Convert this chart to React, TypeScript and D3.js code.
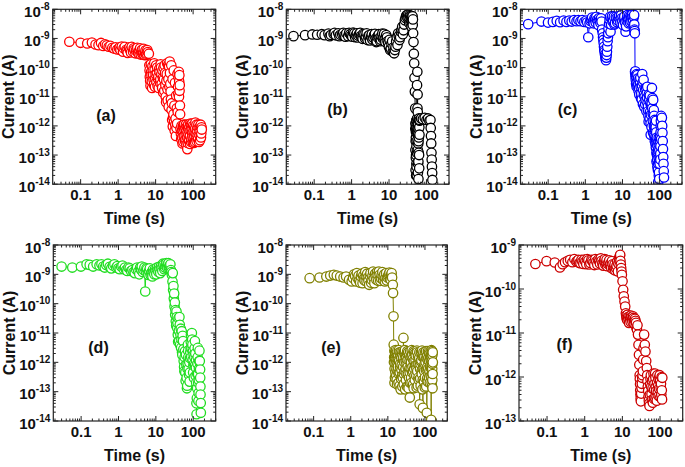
import React from 'react';
import * as d3 from 'd3';

type Pt = [number, number];

// ---- data: [time (s), current (A)] ----
const seriesA: Pt[] = [
  [0.05,7.7e-10],[0.1,7.1e-10],[0.15,6.7e-10],[0.2,7.2e-10],[0.25,6.2e-10],[0.3,5.9e-10],[0.35,7.0e-10],[0.4,5.5e-10],[0.45,6.3e-10],[0.5,5.8e-10],
  [0.56,5.2e-10],[0.62,5.6e-10],[0.7,4.8e-10],[0.78,4.5e-10],[0.86,5.0e-10],[0.95,4.2e-10],[1.05,4.6e-10],[1.15,4.0e-10],[1.25,5.3e-10],[1.35,3.5e-10],
  [1.5,5.2e-10],[1.65,4.1e-10],[1.8,3.2e-10],[1.95,4.6e-10],[2.1,4.0e-10],[2.3,5.2e-10],[2.5,3.5e-10],[2.7,4.1e-10],[2.9,3.1e-10],[3.1,4.3e-10],
  [3.4,3.3e-10],[3.7,3.9e-10],[4.0,2.8e-10],[4.3,4.1e-10],[4.6,3.2e-10],[5.0,2.7e-10],[5.4,3.9e-10],[5.8,3.0e-10],[6.2,3.4e-10],[6.6,3.0e-10],
  [6.8,1.2e-10],[7.0,4.8e-11],[7.3,2.4e-11],[7.6,7.2e-11],[7.9,3.3e-11],[8.2,1.1e-10],[8.6,5.5e-11],[9.0,2.6e-11],[9.4,8.5e-11],[9.8,4.2e-11],
  [10.3,1.2e-10],[10.8,6.5e-11],[11.3,2.3e-11],[11.8,5.0e-11],[12.4,9.0e-11],[13.0,3.0e-11],[13.6,1.3e-10],[14.2,6.0e-11],[14.9,2.0e-11],[15.6,4.5e-11],
  [16.3,1.0e-10],[17.0,1.6e-11],[17.8,6.5e-11],[18.6,1.0e-11],[19.4,3.5e-11],[20.2,1.4e-10],[21.0,7.5e-12],[21.9,4.0e-11],[22.8,1.1e-10],[23.7,1.6e-10],
  [24.6,2.8e-11],[25.6,8.0e-12],[26.6,3.5e-12],[27.6,1.6e-12],[28.7,9.5e-13],[29.8,2.5e-12],[31.0,1.4e-12],[32.2,7.0e-13],[33.4,1.1e-12],[34.7,4.5e-13],
  [36.0,8.5e-13],[37.4,1.2e-12],[38.8,3.0e-12],[40.2,1.3e-11],[41.5,7.2e-11],[42.5,3.3e-11],[43.5,1.6e-11],[44.5,5.0e-12],
  [46,8.0e-13],[48,3.5e-13],[50,6.5e-13],[52,2.5e-13],[54,1.0e-12],[56,4.5e-13],[58,7.5e-13],[61,3.0e-13],[64,1.1e-12],[67,5.0e-13],
  [70,1.6e-13],[73,8.5e-13],[76,3.5e-13],[80,6.5e-13],[84,1.2e-12],[88,2.8e-13],[92,8.0e-13],[96,4.2e-13],[100,1.0e-12],[105,2.6e-13],
  [110,6.0e-13],[115,1.3e-12],[120,3.5e-13],[126,7.5e-13],[132,4.6e-13],[138,1.1e-12],[144,2.8e-13],[150,6.5e-13],[156,9.5e-13],[162,4.0e-13],[168,9.0e-13],
];
const denseA: Pt[] = [
  [1.1,5.0e-10],[1.4,4.6e-10],[1.7,3.7e-10],[2.0,5.0e-10],[2.2,3.3e-10],[2.6,4.6e-10],[3.0,3.8e-10],[3.25,4.8e-10],[3.55,3.0e-10],[3.85,4.6e-10],
  [4.15,3.5e-10],[4.45,2.9e-10],[4.8,4.4e-10],[5.2,3.2e-10],[5.6,2.7e-10],[6.0,4.0e-10],
  [6.9,8e-11],[7.15,3.5e-11],[7.45,1.3e-10],[7.75,5.5e-11],[8.05,2.0e-11],[8.4,8e-11],[8.8,3.8e-11],[9.2,1.4e-10],[9.6,2.2e-11],[10.0,6e-11],
  [10.5,3.2e-11],[11.0,1.0e-10],[11.5,4.2e-11],[12.1,2.0e-11],[12.7,7e-11],[13.3,4.0e-11],[13.9,1.0e-10],[14.5,2.8e-11],[15.2,8e-11],[15.9,1.4e-11],
  [16.6,4.0e-11],[17.4,1.2e-10],[18.2,2.5e-11],[19.0,6.5e-12],[19.8,6e-11],[20.6,1.8e-11],[21.4,1.2e-10],[22.3,4.5e-12],[23.2,2.2e-11],[24.1,6.5e-11],
  [25.1,1.5e-11],[26.1,1.2e-10],[27.1,6e-12],[28.2,4e-11],[29.2,2.0e-12],[30.4,8e-11],[31.6,5e-12],[32.8,3e-11],[34.0,1.8e-12],[35.3,1.1e-11],
  [36.7,4e-12],[38.1,6e-11],[39.5,2.2e-11],[41,4.5e-11],[42,1.0e-11],[43,5.5e-11],[44,2.5e-11],[45,2.5e-12],
  [47,5.5e-13],[49,1.0e-12],[51,4.0e-13],[53,7.0e-13],[55,2.8e-13],[57,1.1e-12],[59,4.5e-13],[62,8.5e-13],[63,3.5e-13],[65,6.5e-13],
  [66,2.3e-13],[68,9.5e-13],[69,4.0e-13],[71,6.0e-13],[72,2.6e-13],[74,1.1e-12],[75,5.0e-13],[78,3.0e-13],[79,9.0e-13],[82,4.5e-13],
  [83,2.4e-13],[86,7.0e-13],[87,1.1e-12],[90,3.6e-13],[94,5.5e-13],[95,1.2e-12],[98,2.7e-13],[102,6.5e-13],[103,3.8e-13],[107,9.0e-13],
  [108,4.5e-13],[112,2.8e-13],[113,8.0e-13],[118,5.5e-13],[123,1.1e-12],[124,3.0e-13],[129,6.0e-13],[135,3.5e-13],[141,8.5e-13],[147,5.0e-13],
  [153,3.2e-13],[159,1.1e-12],[165,5.5e-13],[170,7.5e-13],
];

const seriesB: Pt[] = [
  [0.028,1.2e-9],[0.057,1.3e-9],[0.089,1.37e-9],[0.12,1.34e-9],[0.16,1.4e-9],[0.19,1.3e-9],[0.24,1.48e-9],[0.28,1.32e-9],[0.33,1.42e-9],[0.38,1.28e-9],
  [0.44,1.5e-9],[0.5,1.34e-9],[0.56,1.4e-9],[0.64,1.25e-9],[0.72,1.5e-9],[0.81,1.2e-9],[0.92,1.4e-9],[1.04,1.15e-9],[1.18,1.5e-9],[1.3,1.28e-9],
  [1.45,1.08e-9],[1.6,1.42e-9],[1.77,1.2e-9],[1.96,9.7e-10],[2.2,1.35e-9],[2.4,1.15e-9],[2.67,8.8e-10],[2.96,1.3e-9],[3.3,1.12e-9],[3.6,9.2e-10],
  [4.0,1.32e-9],[4.4,1.0e-9],[4.7,8.0e-10],[5.1,1.25e-9],[5.6,1.05e-9],[6.05,9.0e-10],[6.6,1.48e-9],[7.1,1.1e-9],[7.7,9.5e-10],[8.4,1.3e-9],
  [9.1,8.0e-10],[9.9,5.2e-10],[10.7,4.0e-10],[11.6,6.7e-10],[12.6,3.5e-10],[13.7,3.1e-10],[14.9,5.2e-10],[16.1,1.1e-9],[17.5,1.5e-9],[19.0,8.8e-10],
  [20.7,1.7e-9],[22.5,2.5e-9],[24.4,1.9e-9],[26.5,4.2e-9],[28.7,6.0e-9],[31.2,5.0e-9],[32.5,6.5e-9],[34.6,3.3e-9],[36.7,5.8e-9],[38.3,4.2e-9],
  [40,2.5e-9],[41.7,5.5e-9],[43,2.9e-9],[44,1.5e-9],[45,7.5e-10],[46,3.0e-10],[47,1.4e-10],[48,4.5e-11],[49,1.5e-11],[50,4e-12],
  [51,1.2e-12],[51.5,3e-13],[52,8e-14],[52.5,6e-13],[53,2e-14],[53.5,1.5e-12],[54,2e-13],[54.5,4e-14],[55,9e-13],[55.5,1.2e-13],
  [56,2.5e-11],[57,7.2e-11],[58,1.2e-11],[58.5,3e-12],[59,6e-13],[59.5,5e-14],[60,1.4e-12],[60.5,2.5e-13],[61,1.5e-14],[61.5,8e-13],
  [62,1.2e-13],[63,1.8e-12],[64,3.5e-14],[65,5e-13],[66,1.6e-12],[72,1.8e-12],[80,1.7e-12],[90,1.9e-12],[100,1.6e-12],[110,1.8e-12],
  [120,1.5e-12],[128,1.6e-12],[130,8.5e-13],[132,4.5e-13],[134,2.5e-13],[136,1.2e-13],[138,7e-14],[140,4e-14],[142,2.4e-14],[144,1.4e-14],
];
const denseB: Pt[] = [
  [0.26,1.2e-9],[0.35,1.55e-9],[0.47,1.2e-9],[0.6,1.55e-9],[0.68,1.15e-9],[0.86,1.55e-9],[0.98,1.25e-9],[1.1,1.6e-9],[1.24,1.1e-9],[1.38,1.5e-9],
  [1.52,1.25e-9],[1.7,1.55e-9],[1.86,1.1e-9],[2.05,1.45e-9],[2.3,1.0e-9],[2.52,1.5e-9],[2.8,1.2e-9],[3.1,8.5e-10],[3.45,1.4e-9],[3.8,1.05e-9],
  [4.2,1.45e-9],[4.55,7.5e-10],[4.9,1.1e-9],[5.35,1.4e-9],[5.8,8.0e-10],[6.3,1.2e-9],[6.85,1.0e-9],[7.4,1.45e-9],[8.0,7.5e-10],[8.8,1.1e-9],
  [9.5,7e-10],[10.3,9e-10],[11.1,4.5e-10],[12.1,8e-10],[13.1,5e-10],[14.3,4e-10],[15.5,8e-10],[16.8,6e-10],[18.2,1.2e-9],[19.8,1.1e-9],
  [21.6,2.0e-9],[23.4,1.4e-9],[25.4,3.0e-9],[27.6,5.0e-9],[30,6.4e-9],[33.5,5.2e-9],[35.6,6.2e-9],[37.5,3.5e-9],[39.2,5.5e-9],[40.8,4.0e-9],
  [42.4,5.8e-9],[43.5,4.5e-9],
  [50.3,8e-13],[50.7,1.5e-13],[51.2,3e-14],[51.8,1.2e-12],[52.2,4e-13],[52.8,1e-13],[53.2,8e-13],[53.8,5e-14],[54.2,1.6e-12],[54.8,3e-13],
  [55.2,2e-14],[55.8,6e-13],[56.5,1.8e-12],[57.5,4e-12],[58.2,8e-13],[58.8,1.5e-13],[59.2,2.5e-14],[59.8,5e-13],[60.2,1.1e-12],[60.8,6e-14],
  [61.2,3e-13],[61.8,1.7e-12],[62.5,4e-13],[63.5,1e-13],[64.5,9e-13],[65.5,1.5e-12],
];

const seriesC: Pt[] = [
  [0.029,3.1e-9],[0.066,3.8e-9],[0.099,3.5e-9],[0.134,3.7e-9],[0.17,4.0e-9],[0.21,3.6e-9],[0.26,4.1e-9],[0.31,3.7e-9],[0.37,4.1e-9],[0.43,3.8e-9],
  [0.5,4.3e-9],[0.58,3.9e-9],[0.65,4.3e-9],[0.74,3.9e-9],[0.83,4.3e-9],[0.94,3.7e-9],[1.06,4.1e-9],[1.2,1.1e-9],[1.3,3.3e-9],[1.44,4.5e-9],
  [1.6,3.8e-9],[1.76,4.9e-9],[1.9,3.5e-9],[2.07,4.3e-9],[2.25,2.9e-9],[2.45,4.1e-9],[2.65,4.9e-9],[2.82,2.0e-9],[2.94,1.5e-9],[3.06,8.9e-10],
  [3.18,5.2e-10],[3.3,3.5e-10],[3.45,2.4e-10],[3.6,1.8e-10],[3.75,2.7e-10],[3.9,5.2e-10],[4.06,1.1e-9],[4.2,2.2e-9],[4.5,4.3e-9],[4.77,1.7e-9],
  [5.1,4.9e-9],[5.4,3.8e-9],[5.85,5.6e-9],[6.3,3.3e-9],[6.9,4.9e-9],[7.5,4.1e-9],[8.1,5.9e-9],[8.8,3.5e-9],[9.5,4.9e-9],[10.3,2.9e-9],
  [11.2,5.6e-9],[12.1,1.7e-9],[12.9,4.1e-9],[13.7,6.4e-9],[14.6,3.3e-9],[15.5,4.9e-9],[16.5,5.9e-9],[17.5,3.8e-9],[18.6,5.3e-9],[19.8,2.9e-9],
  [20.6,6.4e-9],[21.0,2.0e-9],[21.5,1.5e-9],[21.8,7.2e-11],[22,6.4e-11],[22.8,3.8e-11],[23.6,4.9e-11],[25,2.5e-11],[26.2,4.3e-11],[27.9,2.0e-11],
  [29.6,2.9e-11],[32,1.3e-11],[34,6e-11],[36,1.7e-11],[39.5,1.0e-11],[42,7.8e-12],[45,1.3e-11],[47,6e-12],[48.5,4.6e-12],[50,2.2e-12],
  [52.5,7.8e-12],[55,3e-12],[57,1.2e-12],[59,5e-12],[62,2.0e-11],[64,9e-12],[67,7.8e-12],[68.5,2.5e-12],[70,1.0e-12],[72,4.5e-13],
  [73.5,1.6e-12],[75,7.4e-13],[77,2.5e-13],[78.5,9e-13],[80,3.4e-13],[82,1.2e-13],[84,4e-13],[86,6.9e-14],[88,2e-13],[90,3.1e-14],
  [92,1.2e-14],[94,8e-14],[96,2.5e-14],[98,1.5e-13],[100,5e-14],[102,3e-13],[104,1.1e-13],[106,6e-13],[108,1.5e-12],[110,2.2e-12],
  [115,1.9e-12],[117,1.0e-12],[119,5.8e-13],[121,3.0e-13],[123,1.6e-13],[125,8.5e-14],[127,5.0e-14],[129,2.8e-14],[131,1.7e-14],
];
const denseC: Pt[] = [
  [1.12,3.6e-9],[1.37,4.0e-9],[1.52,5.2e-9],[1.68,3.3e-9],[1.83,4.5e-9],[1.98,5.5e-9],[2.16,3.8e-9],[2.35,5.0e-9],[2.55,3.4e-9],[2.74,3.8e-9],
  [3.0,1.1e-9],[3.12,7e-10],[3.24,4e-10],[3.38,2.8e-10],[3.52,2.0e-10],[3.68,2.2e-10],[3.82,3.5e-10],[3.98,8e-10],[4.13,1.5e-9],[4.35,3.2e-9],
  [4.63,5.5e-9],[4.93,3.0e-9],[5.25,5.8e-9],[5.62,4.2e-9],[6.08,3.0e-9],[6.6,5.5e-9],[7.2,3.6e-9],[7.8,5.2e-9],[8.45,4.4e-9],[9.15,6.2e-9],
  [9.9,3.8e-9],[10.75,5.0e-9],[11.65,3.6e-9],[12.5,2.6e-9],[13.3,5.2e-9],[14.15,4.4e-9],[15.05,6.0e-9],[16.0,3.5e-9],[17.0,5.0e-9],[18.05,6.5e-9],
  [19.2,4.2e-9],[20.2,5.5e-9],[20.8,3.0e-9],[21.2,1.8e-9],
  [22.4,5e-11],[23.2,2.8e-11],[24.3,6e-11],[25.6,3.4e-11],[27,1.6e-11],[28.7,4e-11],[30.8,2.2e-11],[33,8e-12],[35,3.2e-11],[37.7,1.2e-11],
  [40.8,5.5e-12],[43.5,2.0e-11],[46,9e-12],[49.3,3.2e-12],[51.2,1.2e-11],[53.8,1.8e-12],[56,6e-12],[58,2.4e-12],[60.5,9e-13],[63,4e-12],
  [65.5,1.5e-12],[69.2,5.5e-13],[71,2.2e-12],[74.2,3e-13],[76,1.2e-12],[79.2,1.8e-13],[81,6e-13],[83,2.5e-13],[85,1.0e-13],[87,4e-14],
  [89,1.2e-13],[91,5e-14],[93,3e-13],[95,2e-14],[97,6e-14],[99,2.2e-13],[101,9e-14],[103,4.5e-13],[105,2e-13],[107,1e-12],[109,3.5e-13],
  [22.2,7.5e-11],[23.0,5.5e-11],[24.0,2.2e-11],[25.3,5.5e-11],[26.6,2.6e-11],[28.3,1.2e-11],[30.2,4.5e-11],[31.4,9e-12],[33.5,2.4e-11],[35.5,5.5e-12],
  [37,3.8e-11],[38.5,4.5e-12],[41,1.8e-11],[44,3.2e-12],[46.5,2.2e-11],[50.6,1.4e-12],[54.5,1.1e-11],[57.5,5e-13],[61,6e-12],[64.8,2.6e-12],
  [66,6e-13],[69.8,3.5e-12],[72.8,1.1e-12],[76.5,4e-13],[79.8,1.5e-12],[82.5,6e-14],[86.5,2.2e-13],[90.5,1.5e-13],[94.5,4e-13],[97.5,1.5e-14],[104.5,7e-14],
];

const seriesD: Pt[] = [
  [0.030,1.84e-9],[0.058,1.7e-9],[0.099,1.84e-9],[0.14,2.2e-9],[0.17,2.1e-9],[0.21,1.84e-9],[0.26,2.2e-9],[0.31,2.0e-9],[0.39,1.84e-9],[0.47,2.1e-9],
  [0.58,1.8e-9],[0.71,2.0e-9],[0.87,1.7e-9],[1.0,1.6e-9],[1.18,1.84e-9],[1.38,1.5e-9],[1.6,1.4e-9],[1.84,1.7e-9],[2.16,1.3e-9],[2.54,1.2e-9],
  [2.93,1.5e-9],[3.4,1.25e-9],[3.8,1.7e-9],[4.2,1.84e-9],[4.7,1.4e-9],[5.2,2.6e-10],[5.6,1.6e-9],[6.1,1.1e-9],[6.6,1.3e-9],[7.2,9.6e-10],
  [7.8,1.2e-9],[8.4,1.45e-9],[9.1,1.0e-9],[9.9,1.3e-9],[10.7,1.7e-9],[11.7,1.2e-9],[12.6,1.5e-9],[13.7,1.9e-9],[14.9,1.3e-9],[16.1,2.1e-9],
  [17.5,1.7e-9],[18.6,2.3e-9],[19.8,1.84e-9],[21,2.2e-9],[22.4,1.6e-9],[23.7,2.0e-9],[25.3,1.4e-9],[26.8,9.6e-10],[27.9,5.7e-10],[29,2.9e-10],
  [30.3,1.5e-10],[31.6,8e-11],[32.9,4.2e-11],[34.2,2.5e-11],[35.7,5.4e-11],[37.2,1.5e-11],[38.7,8.8e-12],[40.3,3.2e-11],[42,5.3e-12],[43.7,1.9e-11],
  [45.5,8.8e-12],[47.4,3.1e-12],[49.3,1.15e-11],[51,1.8e-12],[53.5,5.3e-12],[55.6,1.1e-12],[58,5e-13],[60.3,2.4e-12],[62.8,2.3e-13],[65.4,8.5e-13],
  [68,1.3e-13],[70,6e-13],[72,4e-12],[74,1.5e-12],[77,3.8e-13],[80,2.2e-13],[82,1.4e-12],[85,3e-12],[87,8.8e-12],[90,3e-12],
  [92,1e-11],[95,4e-12],[98,2.4e-12],[101,8e-13],[104,3e-13],[107,1.5e-12],[111,5.3e-12],[114,2e-12],[118,6.5e-13],[120,2e-13],
  [123,1.7e-14],[125,6e-14],[127,1.3e-13],[130,9e-13],[133,3.1e-12],[135,4e-13],[138,4.8e-14],[141,2.5e-13],[144,1.1e-12],[150,1.1e-12],
  [153,5.7e-13],[154,3.0e-13],[156,1.5e-13],[157,8e-14],[159,4.1e-14],[160,1.9e-14],
];
const denseD: Pt[] = [
  [0.35,2.2e-9],[0.43,1.7e-9],[0.52,2.3e-9],[0.64,1.6e-9],[0.78,2.2e-9],[0.93,1.9e-9],[1.08,1.5e-9],[1.28,2.0e-9],[1.49,1.7e-9],[1.72,1.3e-9],
  [2.0,1.6e-9],[2.35,1.4e-9],[2.73,1.1e-9],[3.15,1.7e-9],[3.6,1.0e-9],[4.0,1.45e-9],[4.45,1.2e-9],[4.95,1.7e-9],[5.4,1.25e-9],[5.85,1.5e-9],
  [6.35,9.5e-10],[6.9,1.6e-9],[7.5,1.1e-9],[8.1,8.5e-10],[8.75,1.2e-9],[9.5,1.5e-9],[10.3,1.0e-9],[11.2,1.4e-9],[12.1,1.8e-9],[13.1,1.1e-9],
  [14.3,1.6e-9],[15.5,2.3e-9],[16.8,1.5e-9],[18.0,2.0e-9],[19.2,2.4e-9],[20.4,1.6e-9],[21.7,2.4e-9],[23.0,1.8e-9],[24.5,2.2e-9],[26,1.2e-9],
  [28.4,1.1e-9],[29.6,4e-10],[30.9,2.2e-10],[32.2,1.1e-10],[33.5,6e-11],[35,1.8e-11],[36.4,3.5e-11],[38,2.2e-11],[39.5,5e-12],[41.2,1.2e-11],
  [42.8,3.5e-11],[44.6,4e-12],[46.4,1.4e-11],[48.3,6e-12],[50.2,2.2e-12],[52.2,8e-12],[54.5,2.8e-12],[57,7e-13],[59,1.5e-12],[61.5,4.5e-13],
  [64,1.8e-12],[66.7,3e-13],[69,1.6e-13],[71,9e-13],[73,2.5e-12],[75.5,6e-13],[78.5,1.0e-12],[81,4.5e-13],[83.5,2.2e-12],[86,5e-12],
  [88.5,1.5e-12],[93.5,6e-12],[96.5,1.2e-12],[99.5,4.5e-13],[102.5,1.8e-12],[105.5,9e-13],[109,3e-12],[112.5,8e-13],[116,3.5e-13],[119,1.2e-12],
  [122,4e-14],[128.5,4e-13],[131.5,1.5e-12],[136.5,2e-13],[139.5,9e-14],[142.5,6e-13],[147,2.5e-12],
];

const seriesE: Pt[] = [
  [0.078,7.4e-10],[0.144,7.8e-10],[0.22,8.4e-10],[0.28,9.1e-10],[0.35,9.6e-10],[0.42,9.1e-10],[0.52,8.4e-10],[0.64,7.8e-10],[0.75,8.4e-10],[0.9,6.5e-10],
  [1.06,5.7e-10],[1.23,1.0e-9],[1.39,5.7e-10],[1.53,7.4e-10],[1.7,6.0e-10],[1.88,8.4e-10],[2.08,5.0e-10],[2.26,7.0e-10],[2.45,1.2e-9],[2.66,5.7e-10],
  [2.88,7.8e-10],[3.13,4.4e-10],[3.4,1.1e-9],[3.68,6.5e-10],[4.0,1.25e-9],[4.34,5.0e-10],[4.7,8.4e-10],[5.1,1.2e-9],[5.5,6.0e-10],[6.0,9.6e-10],
  [6.5,7.4e-10],[7.1,1.2e-9],[7.7,8.4e-10],[8.3,5.7e-10],[9.0,1.1e-9],[9.8,7.8e-10],[10.6,1.0e-9],[11.5,7.0e-10],[12.3,9.6e-10],[13.0,7.8e-10],
  [13.6,4.4e-10],[13.8,2.3e-10],[14.2,3.7e-11],[14.4,4e-12],
  [14.8,1.5e-12],[15.2,6e-13],[15.7,2.2e-12],[16.2,9e-13],[16.8,3.5e-13],[17.4,1.3e-12],[18,2.5e-12],[18.7,7e-13],[19.4,2e-13],[20.1,1.1e-12],
  [20.9,4.5e-13],[21.7,1.8e-12],[22.6,2.8e-13],[23.5,8e-13],[24.5,1.5e-13],[25.5,1.2e-12],[26.3,6.8e-12],[27.2,2.2e-12],[28.3,5e-13],[29.5,1.6e-12],
  [30.7,2.5e-13],[32,9e-13],[33.3,2.4e-12],[34.7,4e-13],[36.2,1.3e-13],[37.8,6e-13],[39,6.3e-14],[40.5,1.5e-12],[42.2,3e-13],[44,2.6e-12],
  [46,7e-13],[48,1.8e-13],[50,1.1e-12],[52,3.5e-13],[54.5,2e-12],[57,8e-13],[59.5,1.4e-13],[62,5e-13],[65,1.6e-12],[68,2.5e-13],
  [72,3.7e-14],[75,9e-13],[78,2.2e-12],[82,4e-13],[85,1.2e-13],[88,2.8e-14],[92,6e-13],[96,1.5e-12],[100,3e-13],[104,1e-12],
  [108,1.5e-13],[112,1.9e-14],[116,7e-13],[120,2.4e-12],[125,4e-13],[130,1.1e-12],[135,2e-13],[140,8e-13],[145,1.8e-12],[147,1.1e-14],
  [150,2.6e-12],[152,1.5e-12],[154,8e-13],[156,4.5e-13],[158,2.5e-13],[160,1.3e-13],
];
const denseE: Pt[] = [
  [1.15,7.5e-10],[1.31,8.8e-10],[1.46,1.1e-9],[1.62,9e-10],[1.79,5.2e-10],[1.98,1.05e-9],[2.17,9e-10],[2.36,6.2e-10],[2.55,8.5e-10],[2.77,1.05e-9],
  [3.0,6.0e-10],[3.27,8.8e-10],[3.54,5.2e-10],[3.84,9.0e-10],[4.17,7.0e-10],[4.52,1.05e-9],[4.9,6.5e-10],[5.3,9.5e-10],[5.75,1.25e-9],[6.25,6.0e-10],
  [6.8,9.5e-10],[7.4,6.5e-10],[8.0,1.0e-9],[8.65,7.5e-10],[9.4,6.2e-10],[10.2,9e-10],[11.05,1.15e-9],[11.9,6.5e-10],[12.65,1.1e-9],
  [15.0,2.5e-12],[15.5,3e-13],[15.9,1.2e-12],[16.5,2.6e-12],[17.1,6e-13],[17.7,1.8e-13],[18.3,9e-13],[19.0,1.6e-12],[19.7,4e-13],[20.5,2.2e-12],
  [21.3,7e-13],[22.1,1.2e-13],[23.0,1.4e-12],[24.0,3.5e-13],[25.0,2.4e-12],[25.9,7e-13],[26.8,1.8e-13],[27.7,1.0e-12],[28.9,2.6e-12],[30.1,6e-13],
  [31.3,1.6e-12],[32.6,1.5e-13],[34,1.2e-12],[35.4,2.2e-12],[37,3e-13],[38.4,1.1e-12],[39.7,2e-13],[41.3,6e-13],[43.1,1.6e-12],[45,4.5e-13],
  [47,1.3e-12],[49,2.4e-12],[51,6e-13],[53.2,2.5e-13],[55.7,1.2e-12],[58.2,3.5e-13],[60.7,2.5e-12],[63.5,9e-13],[66.5,3e-13],[70,1.4e-12],
  [73.5,6e-13],[76.5,1.6e-13],[80,1.2e-12],[83.5,2.5e-12],[86.5,6e-13],[90,1.6e-12],[94,2.2e-13],[98,9e-13],[102,2.3e-12],[106,5.5e-13],
  [110,1.4e-12],[114,2.8e-13],[118,1.2e-12],[122.5,6e-13],[127.5,2.2e-12],[132.5,5e-13],[137.5,1.5e-12],[142.5,3.5e-13],[148.5,6e-13],[151,2e-13],
  [153,1.1e-12],[155,2.4e-12],[157,6e-13],[159,1.8e-12],[161,4e-13],[163,1e-12],
  [14.6,1.0e-12],[15.1,2.0e-13],[15.6,1.6e-12],[16.0,4.5e-13],[16.4,2.0e-12],[16.9,1.1e-12],[17.3,2.5e-13],[17.9,1.9e-12],[18.5,5e-13],[19.2,1.2e-12],
  [19.9,2.6e-12],[20.7,1.6e-13],[21.5,9e-13],[22.3,2.2e-12],[23.3,5.5e-13],[24.2,1.9e-12],[25.2,3e-13],[26.1,1.5e-12],[27.0,4e-13],[28.0,2.5e-12],
  [29.2,1.2e-13],[30.4,1.1e-12],[31.6,4e-13],[32.9,2.0e-12],[34.3,7e-13],[35.7,1.6e-13],[37.3,1.7e-12],[38.7,4.5e-13],[40.1,2.4e-12],[42.0,1.0e-12],
  [43.6,2e-13],[45.5,1.8e-12],[47.5,5e-13],[49.5,1.3e-13],[51.5,2.2e-12],[53.7,8e-13],[56.3,1.7e-12],[58.8,6e-13],[61.3,2.2e-12],[64.2,1.6e-13],
  [67.2,9e-13],[70.8,2.2e-12],[74.2,2.8e-13],[77.2,1.1e-12],[81,5e-13],[84.3,1.6e-12],[87.2,2.5e-13],[91,2.2e-12],[95,5e-13],[99,1.4e-13],
  [103,1.2e-12],[107,2.4e-12],[111,6e-13],[115,1.7e-12],[119,2.2e-13],[123.5,1.4e-12],[128.5,3e-13],[133.5,2.0e-12],[138.5,7e-13],[143.5,1.2e-12],
  [149.5,3e-13],[152,8e-13],[154.5,1.5e-13],[156.5,2.0e-12],[158.5,9e-13],[162,2.2e-12],
];

const seriesF: Pt[] = [
  [0.049,3.7e-10],[0.097,4.3e-10],[0.16,4.0e-10],[0.22,3.1e-10],[0.26,3.65e-10],[0.30,4.05e-10],[0.355,4.35e-10],[0.41,4.6e-10],[0.47,4.05e-10],[0.53,4.8e-10],
  [0.6,4.2e-10],[0.68,4.6e-10],[0.77,3.85e-10],[0.87,4.2e-10],[0.98,4.65e-10],[1.1,3.65e-10],[1.25,4.5e-10],[1.41,3.9e-10],[1.6,4.35e-10],[1.8,3.5e-10],
  [2.03,4.2e-10],[2.3,4.65e-10],[2.54,3.8e-10],[2.8,4.35e-10],[3.1,3.4e-10],[3.4,4.8e-10],[3.66,3.9e-10],[3.97,3.3e-10],[4.3,4.05e-10],[4.67,3.5e-10],
  [5.07,3.0e-10],[5.5,3.65e-10],[5.96,3.1e-10],[6.47,2.65e-10],[7.0,3.4e-10],[7.6,2.5e-10],[8.1,5.0e-10],[8.6,5.7e-10],[8.9,4.35e-10],[9.3,3.0e-10],
  [9.7,2.1e-10],[10.1,1.5e-10],[10.5,9.6e-11],[10.9,6.8e-11],[11.4,5.2e-11],[11.9,4.0e-11],[12.4,2.8e-11],[12.9,2.2e-11],[13.7,2.6e-11],[14.6,2.0e-11],
  [15.5,2.4e-11],[16.5,1.8e-11],[17.5,2.3e-11],[18.6,1.8e-11],[19.8,2.2e-11],[21,1.6e-11],[22.3,1.9e-11],[23.7,1.3e-11],[25.2,1.5e-11],[26,9.2e-12],
  [26.8,5.4e-12],[27.6,3.2e-12],[28.2,1.9e-12],[28.8,1.1e-12],[29.5,6.8e-13],[30.2,4.0e-13],[31,2.8e-13],[32.3,5.7e-13],[33.6,9.6e-13],[35,1.35e-12],
  [36.4,4.5e-12],[37.8,9.2e-12],[39.4,5.4e-12],[41,3.8e-12],[42.9,2.3e-12],[44.6,1.6e-12],[46.4,8e-13],[48.4,4.8e-13],[50.4,2.9e-13],[52.5,2.2e-13],
  [54.7,6.8e-13],[57,1.1e-12],[59.4,4.1e-13],[62,8.1e-13],[64.5,2.6e-13],[67,1.2e-12],[70,5.2e-13],[72.5,3.4e-13],[75.5,9.6e-13],[78.7,4.8e-13],
  [82,2.9e-13],[85,1.1e-12],[89,6.3e-13],[92,3.7e-13],[96,1.0e-12],[100,8.1e-13],[104,5.7e-13],[108,4.0e-13],[113,3.1e-13],[115,9.6e-13],
];
const denseF: Pt[] = [
  [0.64,4.4e-10],[0.72,3.9e-10],[0.82,4.6e-10],[0.92,3.7e-10],[1.04,4.2e-10],[1.17,4.8e-10],[1.33,3.6e-10],[1.5,4.6e-10],[1.7,4.0e-10],[1.91,4.8e-10],
  [2.16,3.6e-10],[2.42,4.3e-10],[2.67,5.0e-10],[2.95,3.8e-10],[3.25,4.3e-10],[3.53,3.6e-10],[3.8,4.6e-10],[4.13,3.7e-10],[4.48,4.5e-10],[4.87,3.8e-10],
  [5.28,4.3e-10],[5.73,2.8e-10],[6.2,3.6e-10],[6.73,3.0e-10],[7.3,4.2e-10],[7.85,3.8e-10],[8.35,4.4e-10],[8.75,6.0e-10],[9.1,3.6e-10],[9.5,2.5e-10],
  [12.65,2.5e-11],[13.3,2.0e-11],[14.1,2.3e-11],[15.0,1.7e-11],[16.0,2.1e-11],[17.0,2.5e-11],[18.0,2.0e-11],[19.2,2.4e-11],[20.4,1.9e-11],[21.6,2.1e-11],
  [23,1.7e-11],[24.4,1.2e-11],
  [29.1,9e-13],[29.8,5e-13],[30.6,3.2e-13],[31.6,4.2e-13],[32.9,7e-13],[34.3,1.1e-12],[35.7,2.5e-12],[45.5,1.1e-12],[47.4,6e-13],[49.4,3.6e-13],
  [51.4,2.5e-13],[53.6,4e-13],[55.8,9e-13],[58.2,6e-13],[60.7,3e-13],[63.2,5.5e-13],[65.7,9e-13],[68.5,3.2e-13],[71.2,7e-13],[74,1.2e-12],
  [77,6e-13],[80.3,3.5e-13],[83.5,7.5e-13],[87,4.5e-13],[90.5,9e-13],[94,5.5e-13],[98,1.1e-12],[102,3.5e-13],[106,7e-13],[110,1.0e-12],[111.5,5e-13],
];

const xTickValues = [0.1, 1, 10, 100];
const xTickLabels = ['0.1', '1', '10', '100'];
const yExponentsMain = [-8, -9, -10, -11, -12, -13, -14];
const yExponentsF = [-9, -10, -11, -12, -13];
const panelLetters = ['(a)', '(b)', '(c)', '(d)', '(e)', '(f)'];
const panelColors = ['#ff0000', '#000000', '#0000ff', '#22dd22', '#808000', '#cc0000'];
const byTime = (p: Pt, q: Pt) => p[0] - q[0];
const allSeries: Pt[][] = [
  [...seriesA, ...denseA].sort(byTime),
  [...seriesB, ...denseB].sort(byTime),
  [...seriesC, ...denseC].sort(byTime),
  [...seriesD, ...denseD].sort(byTime),
  [...seriesE, ...denseE].sort(byTime),
  [...seriesF, ...denseF].sort(byTime),
];
const allExponents = [yExponentsMain, yExponentsMain, yExponentsMain, yExponentsMain, yExponentsMain, yExponentsF];
const timeDomain: [number, number] = [0.018, 400];

// ---- layout (pixels) ----
const layouts = [
  { left: 52.7, right: 215.7, top: 9.3, bottom: 184.2, lx: 106, ly: 115 },
  { left: 286.3, right: 449, top: 9.3, bottom: 184.2, lx: 337.5, ly: 109.5 },
  { left: 520.5, right: 682, top: 9.3, bottom: 184.2, lx: 567.5, ly: 109 },
  { left: 53.3, right: 215.7, top: 245, bottom: 421, lx: 98.5, ly: 347.5 },
  { left: 286, right: 447.3, top: 245, bottom: 421, lx: 331, ly: 347.5 },
  { left: 519, right: 682.7, top: 245, bottom: 421, lx: 564.5, ly: 344 },
];

const FONT = "'Liberation Sans', Arial, Helvetica, sans-serif";
const AXIS = '#222';

function Panel({ idx }: { idx: number }) {
  const L = layouts[idx];
  const data = allSeries[idx];
  const color = panelColors[idx];
  const exps = allExponents[idx];
  const x = d3.scaleLog().domain(timeDomain).range([L.left, L.right]);
  const y = d3
    .scaleLog()
    .domain([Math.pow(10, exps[exps.length - 1]), Math.pow(10, exps[0])])
    .range([L.bottom, L.top]);
  const line = d3
    .line<Pt>()
    .x((d) => x(d[0]))
    .y((d) => y(d[1]));

  const xTicks: { v: number; major: boolean }[] = [];
  for (let e = -2; e <= 2; e++) {
    for (let k = 1; k <= 9; k++) {
      const v = k * Math.pow(10, e);
      if (v >= timeDomain[0] && v <= timeDomain[1]) xTicks.push({ v, major: k === 1 });
    }
  }
  const yTicks: { v: number; major: boolean }[] = [];
  const eLo = exps[exps.length - 1];
  const eHi = exps[0];
  for (let e = eLo; e <= eHi; e++) {
    for (let k = 1; k <= 9; k++) {
      const v = k * Math.pow(10, e);
      if (e === eHi && k > 1) break;
      yTicks.push({ v, major: k === 1 });
    }
  }
  const clipId = `clip-${idx}`;
  const cx = (L.left + L.right) / 2;
  const cy = (L.top + L.bottom) / 2;
  const MJ = 5;
  const MN = 2.5;

  return (
    <g>
      <defs>
        <clipPath id={clipId}>
          <rect x={L.left} y={L.top} width={L.right - L.left} height={L.bottom - L.top} />
        </clipPath>
      </defs>
      <g clipPath={`url(#${clipId})`}>
        <path d={line(data) || ''} fill="none" stroke={color} strokeWidth={1} />
        {data.map((d, i) => (
          <circle key={i} cx={x(d[0])} cy={y(d[1])} r={4.7} fill="#fff" stroke={color} strokeWidth={1.3} />
        ))}
      </g>
      <rect
        x={L.left}
        y={L.top}
        width={L.right - L.left}
        height={L.bottom - L.top}
        fill="none"
        stroke={AXIS}
        strokeWidth={1.2}
      />
      {xTicks.map((t, i) => {
        const px = x(t.v);
        const len = t.major ? MJ : MN;
        return (
          <g key={'xt' + i}>
            <line x1={px} x2={px} y1={L.bottom} y2={L.bottom - len} stroke={AXIS} strokeWidth={1} />
            <line x1={px} x2={px} y1={L.top} y2={L.top + len} stroke={AXIS} strokeWidth={1} />
          </g>
        );
      })}
      {yTicks.map((t, i) => {
        const py = y(t.v);
        const len = t.major ? MJ : MN;
        return (
          <g key={'yt' + i}>
            <line x1={L.left} x2={L.left + len} y1={py} y2={py} stroke={AXIS} strokeWidth={1} />
            <line x1={L.right} x2={L.right - len} y1={py} y2={py} stroke={AXIS} strokeWidth={1} />
          </g>
        );
      })}
      {xTickValues.map((v, i) => (
        <text
          key={'xl' + i}
          x={x(v)}
          y={L.bottom + 16}
          textAnchor="middle"
          fontFamily={FONT}
          fontWeight="bold"
          fontSize={15}
          fill="#111"
        >
          {xTickLabels[i]}
        </text>
      ))}
      {exps.map((e, i) => (
        <text
          key={'yl' + i}
          x={L.left - 3}
          y={y(Math.pow(10, e)) + 7.5}
          textAnchor="end"
          fontFamily={FONT}
          fontWeight="bold"
          fontSize={15}
          fill="#111"
        >
          10
          <tspan dy={-7} fontSize={10}>
            {String(e)}
          </tspan>
        </text>
      ))}
      <text
        x={cx}
        y={L.bottom + 40}
        textAnchor="middle"
        fontFamily={FONT}
        fontWeight="bold"
        fontSize={16}
        fill="#111"
      >
        Time (s)
      </text>
      <text
        transform={`translate(${L.left - 38.5},${cy}) rotate(-90)`}
        textAnchor="middle"
        fontFamily={FONT}
        fontWeight="bold"
        fontSize={16}
        fill="#111"
      >
        Current (A)
      </text>
      <text
        x={L.lx}
        y={L.ly + 5.5}
        textAnchor="middle"
        fontFamily={FONT}
        fontWeight="bold"
        fontSize={16}
        fill="#111"
      >
        {panelLetters[idx]}
      </text>
    </g>
  );
}

export default function App() {
  return (
    <svg
      width={685}
      height={467}
      viewBox="0 0 685 467"
      style={{ position: 'absolute', left: 0, top: 0, background: '#fff' }}
    >
      <rect x={0} y={0} width={685} height={467} fill="#fff" />
      {layouts.map((_, i) => (
        <Panel key={i} idx={i} />
      ))}
    </svg>
  );
}
